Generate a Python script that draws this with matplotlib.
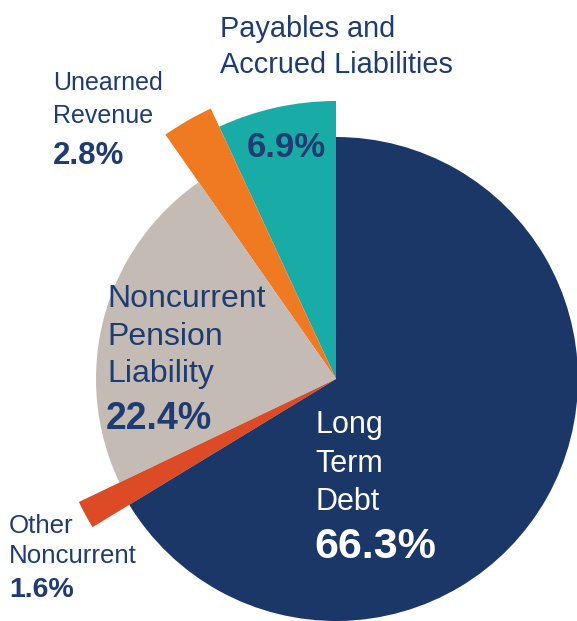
import matplotlib
matplotlib.use("Agg")
import matplotlib.pyplot as plt

W, H = 577, 621

# data (counter-clockwise from 12 o'clock)
categories = ["Payables and\nAccrued Liabilities", "Unearned\nRevenue",
              "Noncurrent\nPension\nLiability", "Other\nNoncurrent", "Long\nTerm\nDebt"]
shares = [6.9, 2.8, 22.4, 1.6, 66.3]
pct_labels = ["6.9%", "2.8%", "22.4%", "1.6%", "66.3%"]

colors = ["#19aba5", "#f07a22", "#c5bbb5", "#dc4a26", "#1b3767"]
radii = [278, 298, 240, 285, 242]  # wedges are drawn with different lengths
NAVY = "#1f3c72"

plt.rcParams["font.family"] = ["Liberation Sans", "DejaVu Sans"]

fig = plt.figure(figsize=(W / 100, H / 100), dpi=100)
ax = fig.add_axes([0, 0, 1, 1])

cx, cy = 336, 379
wedges, _ = ax.pie(shares, colors=colors, startangle=90, counterclock=True,
                   radius=242, center=(cx, H - cy),
                   wedgeprops={"linewidth": 0})
for w, r in zip(wedges, radii):
    w.set_radius(r)

ax.set_xlim(0, W)
ax.set_ylim(0, H)
ax.set_aspect("equal")
ax.axis("off")


def put(x, y_px, s, size, color=NAVY, bold=False):
    ax.text(x, H - y_px, s, fontsize=size, color=color, ha="left", va="baseline",
            fontweight="bold" if bold else "normal")


def put_lines(x, baselines, lines, size, color=NAVY):
    for yb, line in zip(baselines, lines):
        put(x, yb, line, size, color)


# Payables and Accrued Liabilities
put_lines(220, [37, 73], categories[0].split("\n"), 20.8)
put(247, 157, pct_labels[0], 25, bold=True)

# Unearned Revenue
put_lines(53, [90, 123], categories[1].split("\n"), 18)
put(53, 164, pct_labels[1], 22.5, bold=True)

# Noncurrent Pension Liability
put_lines(107, [307, 345, 382], categories[2].split("\n"), 23)
put(106, 429, pct_labels[2], 27, bold=True)

# Other Noncurrent
put_lines(9, [533, 563], categories[3].split("\n"), 18.6)
put(9, 597, pct_labels[3], 20.5, bold=True)

# Long Term Debt
put_lines(315, [433, 472, 510], categories[4].split("\n"), 22, color="white")
put(314, 558, pct_labels[4], 31, color="white", bold=True)

fig.savefig("out.png", dpi=100)
